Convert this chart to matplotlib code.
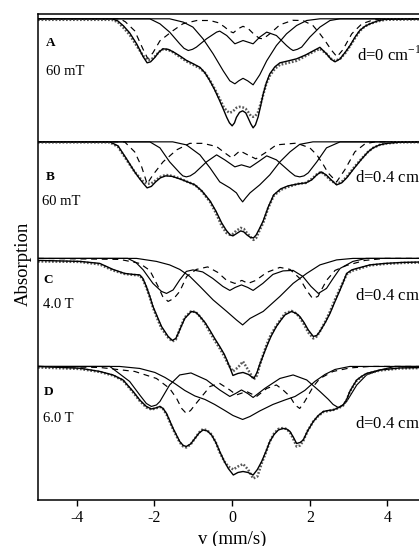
#!/usr/bin/env python3
"""Mossbauer spectra, four panels (A-D) stacked on one velocity axis.
Each panel: measured data (dotted grey), total fit (solid), and the
sub-spectra drawn above it (two solid, one dashed).
Depths are absorption below the panel baseline (arbitrary units).
"""

import matplotlib
matplotlib.use("Agg")
import matplotlib.pyplot as plt

plt.rcParams["font.family"] = ["Liberation Serif", "DejaVu Serif"]
plt.rcParams["mathtext.fontset"] = "custom"
plt.rcParams["mathtext.rm"] = "Liberation Serif"
plt.rcParams["axes.unicode_minus"] = False

# ---------------- panel A : 60 mT, d=0 ----------------
A_V = [-5.0, -3.1, -2.95, -2.80, -2.64, -2.46, -2.29, -2.19, -2.10, -2.00,
       -1.88, -1.78, -1.65, -1.52, -1.35, -1.18, -1.00, -0.83, -0.70, -0.58,
       -0.45, -0.32, -0.22, -0.14, -0.07, 0.00, 0.06, 0.11, 0.19, 0.27,
       0.35, 0.41, 0.48, 0.54, 0.60, 0.67, 0.74, 0.80, 0.88, 0.97,
       1.10, 1.23, 1.45, 1.66, 1.90, 2.09, 2.26, 2.43, 2.55, 2.65,
       2.78, 2.92, 3.04, 3.17, 3.29, 3.42, 3.55, 3.75, 3.94, 5.0]
A_FIT = [0, 0, 2, 7, 14, 25, 38, 44, 43, 39,
         33, 30, 30.5, 33, 37, 41.5, 45, 48.5, 54, 61.5,
         71, 82, 91, 98.5, 104, 107, 104, 98.5, 93.5, 92,
         94, 99, 105, 109, 106, 98, 86, 75, 64, 55,
         48, 44, 42, 40, 36, 32, 28.5, 35, 40.5, 43,
         40, 33, 26.5, 18, 11.5, 7.5, 5, 2, 0.5, 0]
A_DATA = [1, 1, 3, 9, 16, 27, 37, 41, 41, 38,
          33, 30.5, 31, 33.5, 38, 42.5, 46, 49.5, 54, 61,
          70, 80, 88, 92, 94, 93, 91, 89, 88, 88.5,
          90, 93, 97, 98, 97, 93, 84, 76, 65, 57,
          50, 46, 44, 42, 37, 33, 30, 35, 40, 42,
          40, 34, 27, 19, 12, 7.5, 5, 2.5, 1, 0.5]
A_S1_V = [-5, -2.12, -1.86, -1.61, -1.35, -1.24, -1.13, -1.02, -0.92, -0.66,
          -0.40, -0.32, -0.14, 0.07, 0.28, 0.54, 0.71, 0.89, 1.14, 1.40,
          1.50, 1.57, 1.68, 1.79, 2.00, 2.26, 2.52, 2.78, 5]
A_S1 = [0, 0, 5, 13.3, 25, 29.5, 31.7, 30.5, 28.3, 20,
        13.3, 12.3, 16.7, 25, 21.7, 25, 18.3, 13.3, 16.7, 26.7,
        30, 31.7, 30.5, 28.3, 18.3, 8.3, 1.7, 0, 0]
A_S2_V = [-5, -1.61, -1.26, -1.01, -0.75, -0.49, -0.23, -0.06, 0.07, 0.17,
          0.28, 0.40, 0.54, 0.71, 0.89, 1.14, 1.40, 1.66, 1.92, 2.26, 5]
A_S2 = [0, 0, 3.3, 8.3, 20, 35, 52, 62, 65, 62,
        59.5, 62, 66, 56, 42, 26.7, 15, 6.7, 1.7, 0, 0]
A_DASH_V = [-5, -2.89, -2.75, -2.51, -2.30, -2.17, -2.04, -1.86, -1.53, -1.27,
            -0.91, -0.57, -0.35, -0.20, -0.06, 0.03, 0.15, 0.28, 0.42, 0.55,
            0.70, 0.80, 0.97, 1.23, 1.56, 1.82, 2.08, 2.26, 2.39, 2.55,
            2.70, 2.85, 3.08, 3.34, 3.68, 5]
A_DASH = [0, 0, 3, 12, 30, 40, 34, 22, 12, 5,
          1.7, 1.7, 4, 8, 12.5, 14, 10, 7.5, 10, 15,
          19.5, 20, 15, 6, 1.5, 1.7, 6.7, 15, 21.7, 31,
          38, 31, 15, 5, 0.5, 0]

# ---------------- panel B : 60 mT, d=0.4 ----------------
B_V = [-5.0, -3.15, -2.94, -2.72, -2.51, -2.38, -2.28, -2.19, -2.08, -1.97,
       -1.85, -1.71, -1.55, -1.35, -1.15, -0.96, -0.78, -0.57, -0.42, -0.27,
       -0.15, -0.05, 0.02, 0.10, 0.22, 0.30, 0.38, 0.47, 0.55, 0.62,
       0.70, 0.80, 0.93, 1.07, 1.25, 1.44, 1.70, 1.90, 2.05, 2.18,
       2.29, 2.42, 2.55, 2.69, 2.82, 2.95, 3.15, 3.34, 3.50, 3.63,
       3.80, 3.99, 4.32, 5.0]
B_FIT = [0, 0, 4, 17, 30, 37, 42, 46, 44.5, 40,
         36, 34, 34.5, 37, 40, 43, 49, 59, 69, 81,
         88.5, 93, 94, 92, 89, 90, 93, 95.5, 96, 93,
         87, 79, 65, 53, 47, 44, 42, 41, 38, 33,
         30, 33, 38, 43, 41, 36, 26, 17, 10, 6,
         3, 1.5, 0.3, 0]
B_DATA = [0.5, 0.5, 5, 18, 30, 36, 40, 42, 41.5, 38.5,
          35, 33, 34, 36.5, 40, 43, 49.5, 60, 71, 84,
          91, 93, 92, 89, 86, 87, 91, 95, 98, 96,
          89, 81, 66, 54, 48, 45, 42, 41, 37, 32.5,
          30, 34, 39, 42, 40, 35, 25, 16.5, 10, 6,
          3, 1.5, 0.5, 0.3]
B_S1_V = [-5, -2.12, -1.86, -1.61, -1.35, -1.27, -1.18, -1.08, -0.96, -0.66,
          -0.40, -0.19, 0.07, 0.24, 0.46, 0.67, 0.89, 1.14, 1.49, 1.62,
          1.74, 1.85, 1.96, 2.18, 2.43, 2.78, 5]
B_S1 = [0, 0, 6, 20, 31, 34, 35, 34, 31, 20,
        13, 18, 25, 23, 25.5, 20, 14, 18, 30, 34,
        35, 34, 31, 20, 6, 0, 0]
B_S2_V = [-5, -1.53, -1.18, -0.83, -0.57, -0.32, -0.06, 0.11, 0.19, 0.27,
          0.35, 0.46, 0.71, 0.97, 1.23, 1.49, 1.74, 2.08, 5]
B_S2 = [0, 0, 3, 13, 26, 40, 46, 51, 56, 60,
        56, 51, 43, 33, 20, 10, 2.5, 0, 0]
B_DASH_V = [-5, -2.77, -2.51, -2.33, -2.19, -2.04, -1.78, -1.43, -1.09, -0.75,
            -0.40, -0.19, -0.01, 0.20, 0.40, 0.61, 0.89, 1.14, 1.66, 2.00,
            2.18, 2.35, 2.47, 2.69, 2.90, 3.16, 3.42, 3.68, 5]
B_DASH = [0, 0, 10, 25, 42, 33, 20, 8, 1.5, 1.5,
          4.7, 11, 16, 9, 13, 17, 10, 3, 1.3, 6,
          13, 23, 31, 40, 28, 10, 2, 0, 0]

# ---------------- panel C : 4.0 T, d=0.4 ----------------
C_V = [-5.0, -3.92, -3.41, -3.07, -2.77, -2.55, -2.38, -2.30, -2.21, -2.12,
       -2.04, -1.93, -1.82, -1.65, -1.54, -1.45, -1.39, -1.30, -1.22, -1.05,
       -0.93, -0.83, -0.70, -0.57, -0.45, -0.32, -0.20, -0.10, 0.02, 0.15,
       0.28, 0.42, 0.56, 0.64, 0.71, 0.80, 0.89, 1.00, 1.14, 1.25,
       1.36, 1.53, 1.65, 1.74, 1.85, 1.96, 2.09, 2.18, 2.26, 2.40,
       2.52, 2.65, 2.78, 2.95, 3.08, 3.21, 3.55, 3.94, 4.40, 5.0]
C_FIT = [2, 3, 5, 11, 15, 16, 16.5, 20, 28, 38,
         48, 58, 68, 78, 82, 80, 75, 67, 60, 53,
         54, 58, 64, 72, 80, 88, 96, 105, 117, 115,
         114, 116, 120, 114, 106, 97, 88, 78, 68, 62,
         56.5, 53, 55, 58, 64, 71.5, 78, 77, 73, 64,
         55, 43, 31.5, 15, 11.5, 10, 6.5, 5, 4, 3.5]
C_DATA = [3, 3.5, 6, 12, 15.5, 16.5, 17, 21, 29, 39,
          49, 60, 70, 79, 83, 81, 75, 66, 59, 52.5,
          54, 58, 65, 74, 82, 90, 98, 106, 113, 109,
          103, 112, 121, 117, 107, 96, 86, 76, 67, 61,
          55, 52.5, 55, 59, 66, 74, 80, 78, 73, 63,
          53, 41, 30, 16, 12.5, 11, 7, 5.5, 4.5, 4]
C_S1_V = [-5, -2.69, -2.48, -2.29, -2.04, -1.82, -1.69, -1.52, -1.35, -1.18,
          -1.01, -0.76, -0.50, -0.24, -0.06, 0.08, 0.24, 0.40, 0.54, 0.79,
          1.05, 1.31, 1.57, 1.82, 2.03, 2.22, 2.43, 2.60, 2.78, 3.11,
          3.45, 5]
C_S1 = [0, 0, 4, 11.5, 25, 33, 35, 31.5, 21.5, 13,
        11.5, 13.5, 20, 28, 32, 29, 26.5, 29, 32, 25,
        16, 12.5, 12, 18, 28, 35, 30, 20, 10, 3,
        0, 0]
C_S2_V = [-5, -2.46, -1.95, -1.61, -1.35, -1.09, -0.83, -0.49, -0.14, 0.11,
          0.27, 0.46, 0.80, 1.23, 1.57, 1.92, 2.26, 2.69, 3.11, 5]
C_S2 = [0, 0, 3, 6.5, 11, 18, 28, 41.5, 53, 61.5,
        66.5, 60, 53, 38, 25, 15, 6.5, 1.5, 0, 0]
C_DASH_V = [-5, -2.89, -2.38, -2.12, -1.92, -1.79, -1.65, -1.50, -1.35, -1.17,
            -0.92, -0.63, -0.37, -0.14, 0.07, 0.25, 0.41, 0.61, 0.89, 1.23,
            1.49, 1.74, 1.92, 2.07, 2.21, 2.43, 2.65, 2.95, 3.42, 3.94, 5]
C_DASH = [0, 1, 5, 12, 27, 38, 43, 40, 33, 18,
          11, 8.5, 14, 22, 25, 22, 25, 22, 14, 9,
          11, 20, 32, 40, 38, 22, 12, 7, 2, 0, 0]

# ---------------- panel D : 6.0 T, d=0.4 ----------------
D_V = [-5.0, -3.92, -3.41, -3.07, -2.81, -2.55, -2.38, -2.21, -2.08, -1.97,
       -1.86, -1.78, -1.69, -1.52, -1.35, -1.26, -1.18, -1.07, -0.96, -0.85,
       -0.75, -0.64, -0.53, -0.42, -0.32, -0.20, -0.10, 0.03, 0.15, 0.28,
       0.41, 0.54, 0.65, 0.76, 0.87, 0.97, 1.08, 1.19, 1.31, 1.40,
       1.49, 1.58, 1.66, 1.75, 1.83, 1.95, 2.09, 2.22, 2.35, 2.48,
       2.60, 2.75, 2.86, 2.95, 3.03, 3.12, 3.21, 3.33, 3.46, 3.81,
       4.32, 5.0]
D_FIT = [0, 1.8, 5, 8.5, 13.5, 25, 33.5, 40, 42.5, 41.5,
         40, 42, 47, 62, 75, 79, 80, 77.5, 72, 66.5,
         63.5, 64.5, 68.5, 76, 85, 95, 102, 108.5, 106, 105,
         106, 108.5, 103, 95, 85, 75, 68, 63.5, 62, 62.5,
         65, 71, 77, 76, 73.5, 64, 55, 49, 45, 44,
         43.5, 41, 38.5, 33, 25, 19, 13.5, 10, 7, 3.5,
         1.5, 1]
D_DATA = [1, 2.5, 5.5, 9, 14, 26, 34.5, 41, 43, 42,
          40.5, 42.5, 48, 63, 76, 80, 81, 78, 72, 66,
          62.5, 64, 68, 76, 86, 95, 100, 103, 100, 97.5,
          103, 112, 110, 97, 86, 75, 67, 62.5, 61.5, 62.5,
          66, 73, 80, 79, 74.5, 64, 55, 49.5, 45.5, 44.5,
          43.5, 41.5, 39, 33.5, 25.5, 19.5, 14, 10.5, 7.5, 4,
          2, 1.5]
D_S1_V = [-5, -3.15, -2.98, -2.64, -2.38, -2.21, -2.08, -1.95, -1.86, -1.61,
          -1.35, -1.06, -0.66, -0.32, -0.06, 0.09, 0.24, 0.40, 0.54, 0.84,
          1.23, 1.57, 1.92, 2.26, 2.48, 2.60, 2.73, 2.85, 2.95, 3.21,
          3.46, 3.81, 4.19, 5]
D_S1 = [0, 0, 5, 15, 28.5, 37, 40, 38.5, 35, 18.5,
        8.5, 6.5, 13.5, 23.5, 30, 27, 23.5, 27, 31, 22,
        12, 8.5, 13.5, 25, 33, 38, 41, 38.5, 35, 18.5,
        8.5, 3.5, 0, 0]
D_S2_V = [-5, -2.90, -2.38, -1.99, -1.73, -1.48, -1.22, -0.96, -0.70, -0.45,
          -0.19, 0.02, 0.27, 0.46, 0.71, 1.05, 1.36, 1.62, 1.87, 2.13,
          2.39, 2.65, 3.03, 5]
D_S2 = [0, 0, 2, 6, 11, 17, 24, 29.5, 33, 38,
        44, 49, 53, 50, 44.5, 38, 33.5, 30, 24, 15,
        8, 3, 0, 0]
D_DASH_V = [-5, -3.41, -2.51, -1.95, -1.61, -1.43, -1.30, -1.18, -1.07, -0.96,
            -0.75, -0.57, -0.32, -0.06, 0.11, 0.37, 0.63, 0.89, 1.14, 1.31,
            1.49, 1.62, 1.74, 1.87, 2.09, 2.26, 2.60, 3.03, 3.55, 5]
D_DASH = [0, 1, 5, 12, 22, 32, 42, 47, 44, 38.5,
          28.5, 20, 17, 23.5, 28.5, 25, 30, 22, 18.5, 23.5,
          30, 38.5, 42, 35, 20, 12, 5, 1.5, 0, 0]

LETTERS = ["A", "B", "C", "D"]
FIELDS = ["60 mT", "60 mT", "4.0 T", "6.0 T"]
D_LABELS = ["d=0 cm$^{-1}$", "d=0.4 cm$^{-1}$", "d=0.4 cm$^{-1}$", "d=0.4 cm$^{-1}$"]
X_TICKS = [-4, -2, 0, 2, 4]

PANELS = [
    (A_V, A_FIT, A_DATA, A_S1_V, A_S1, A_S2_V, A_S2, A_DASH_V, A_DASH),
    (B_V, B_FIT, B_DATA, B_S1_V, B_S1, B_S2_V, B_S2, B_DASH_V, B_DASH),
    (C_V, C_FIT, C_DATA, C_S1_V, C_S1, C_S2_V, C_S2, C_DASH_V, C_DASH),
    (D_V, D_FIT, D_DATA, D_S1_V, D_S1, D_S2_V, D_S2, D_DASH_V, D_DASH),
]

# layout: vertical offset of each panel baseline, label positions (relative)
OFFSETS = [0, 123, 239.5, 347.5]
LETTER_X = [-4.81, -4.81, -4.85, -4.85]
LETTER_Y = [24, 34.7, 21.5, 25.2]
FIELD_Y = [53, 59.7, 46.5, 51.8]
FIELD_X = [-4.80, -4.90, -4.88, -4.88]
DLAB_Y = [36, 34.7, 36.5, 56.8]
DLAB_X = [3.21, 3.16, 3.16, 3.16]


def shift(vals, off):
    return [off + d for d in vals]


def draw_panel(ax, i):
    v, fit, data, s1v, s1, s2v, s2, dv, dash = PANELS[i]
    off = OFFSETS[i]
    ax.plot(s1v, shift(s1, off), color="black", lw=0.85)
    ax.plot(s2v, shift(s2, off), color="black", lw=0.85)
    ax.plot(dv, shift(dash, off), color="black", lw=0.85, linestyle=(0, (5, 4)))
    ax.plot(v, shift(data, off), color="0.35", lw=1.8, linestyle=(0, (0.7, 0.7)))
    ax.plot(v, shift(fit, off), color="black", lw=1.0)

    ax.text(LETTER_X[i], off + LETTER_Y[i], LETTERS[i], fontsize=9.5, fontweight="bold",
            ha="left", va="center")
    ax.text(FIELD_X[i], off + FIELD_Y[i], FIELDS[i], fontsize=10.5,
            ha="left", va="center")
    ax.text(DLAB_X[i], off + DLAB_Y[i], D_LABELS[i], fontsize=12,
            ha="left", va="center", clip_on=False)


def main():
    fig = plt.figure(figsize=(4.19, 5.46), dpi=100)
    # right edge of the frame lies just past the figure border, as in the scan
    ax = fig.add_axes([38 / 419, 45.7 / 546, 388.3 / 419, 486 / 546])
    for i in range(len(PANELS)):
        draw_panel(ax, i)

    ax.set_xlim(-5, 5)
    ax.set_ylim(481.3, -4.5)
    ax.set_xticks(X_TICKS)
    ax.set_yticks([])
    ax.tick_params(axis="x", direction="out", length=4, width=1.0,
                   labelsize=11.5, pad=3)
    for sp in ax.spines.values():
        sp.set_linewidth(1.1)
    ax.set_xlabel("v (mm/s)", fontsize=13.5, labelpad=3.5)
    ax.set_ylabel("Absorption", fontsize=13.5)
    ax.yaxis.set_label_coords(-0.016, 0.486)

    fig.savefig("out.png", dpi=100)
    plt.close(fig)


if __name__ == "__main__":
    main()
